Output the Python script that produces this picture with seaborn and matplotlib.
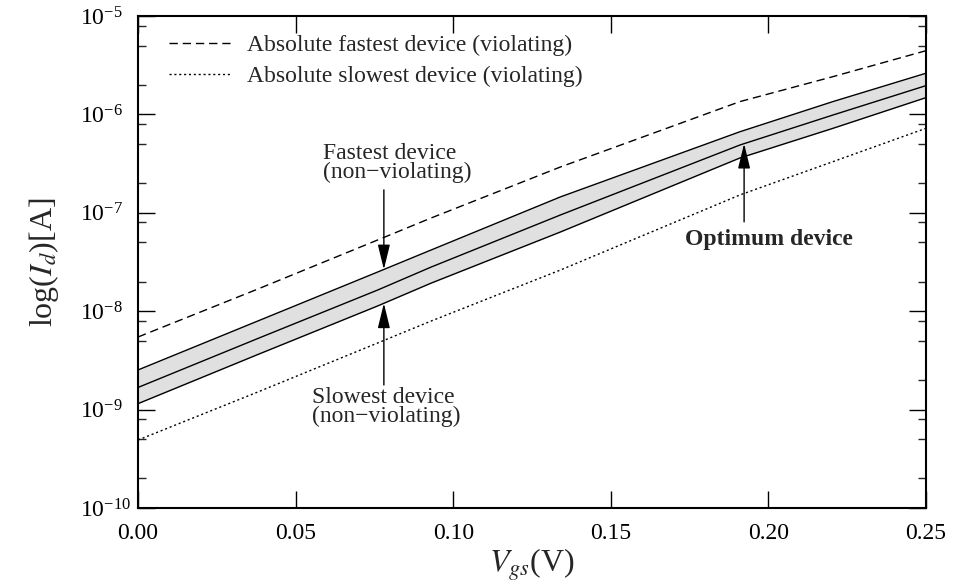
import numpy as np
import pandas as pd
import matplotlib
matplotlib.use("Agg")
import matplotlib.pyplot as plt
import seaborn as sns
from matplotlib.ticker import LogLocator, NullFormatter

# values (Vgs in V, Id in A)
vgs = [0.0, 0.038, 0.076, 0.093, 0.134, 0.191, 0.2205, 0.25]
id_abs_fast = [5.47e-9, 1.68e-8, 5.29e-8, 8.86e-8, 2.92e-7, 1.35e-6, 2.42e-6, 4.44e-6]
id_fast = [2.53e-9, 7.95e-9, 2.50e-8, 4.19e-8, 1.45e-7, 6.67e-7, 1.35e-6, 2.62e-6]
id_opt = [1.68e-9, 5.28e-9, 1.64e-8, 2.81e-8, 9.50e-8, 4.89e-7, 9.86e-7, 1.96e-6]
id_slow = [1.15e-9, 3.63e-9, 1.13e-8, 1.93e-8, 6.38e-8, 3.61e-7, 7.22e-7, 1.48e-6]
id_abs_slow = [4.91e-10, 1.51e-9, 4.75e-9, 7.95e-9, 2.62e-8, 1.52e-7, 3.31e-7, 7.22e-7]

xticks = [0.0, 0.05, 0.10, 0.15, 0.20, 0.25]
xtick_labels = ["0.00", "0.05", "0.10", "0.15", "0.20", "0.25"]
yticks = [1e-10, 1e-9, 1e-8, 1e-7, 1e-6, 1e-5]
legend_labels = ["Absolute fastest device (violating)", "Absolute slowest device (violating)"]

df = pd.DataFrame({"vgs": vgs, "abs_fast": id_abs_fast, "fast": id_fast,
                   "opt": id_opt, "slow": id_slow, "abs_slow": id_abs_slow})

sns.set_theme(style="ticks")
plt.rcParams["font.family"] = ["Liberation Serif", "DejaVu Serif"]
plt.rcParams["mathtext.fontset"] = "stix"
plt.rcParams["font.size"] = 17

fig = plt.figure(figsize=(9.54, 5.84), dpi=100)
ax = fig.add_axes([0.1447, 0.1301, 0.8259, 0.8425])

ax.fill_between(df["vgs"], df["slow"], df["fast"], color="#e0e0e0", lw=0)
sns.lineplot(data=df, x="vgs", y="abs_fast", ax=ax, color="black", lw=1.0,
             label=legend_labels[0]).lines[-1].set_dashes((6, 3.5))
sns.lineplot(data=df, x="vgs", y="abs_slow", ax=ax, color="black", lw=1.0,
             label=legend_labels[1]).lines[-1].set_dashes((1.5, 2))
for col in ["fast", "opt", "slow"]:
    sns.lineplot(data=df, x="vgs", y=col, ax=ax, color="black", lw=1.0, legend=False)

ax.set_yscale("log")
ax.set_xlim(0, 0.25)
ax.set_ylim(1e-10, 1e-5)
ax.set_xticks(xticks)
ax.set_xticklabels(xtick_labels)
ax.set_yticks(yticks)
ax.yaxis.set_minor_locator(LogLocator(base=10, subs=[2, 5, 8], numticks=20))
ax.yaxis.set_minor_formatter(NullFormatter())

ax.tick_params(which="major", direction="in", length=12, width=1.0,
               top=True, right=True, labelsize=17, colors="black")
ax.tick_params(axis="x", which="major", pad=11)
ax.tick_params(axis="y", which="major", pad=42)
ax.tick_params(which="minor", direction="in", length=6, width=1.0,
               top=False, right=True, left=True)
ax.tick_params(axis="x", which="minor", bottom=False, top=False)
for t in ax.get_yticklabels():
    t.set_horizontalalignment("left")
for s in ax.spines.values():
    s.set_linewidth(1.5)
    s.set_color("black")

ax.set_xlabel(r"$V_{gs}$(V)", fontsize=23, labelpad=2)
ax.set_ylabel(r"log($I_d$)[A]", fontsize=23)
ax.yaxis.set_label_coords(-0.098, 0.5)

leg = ax.legend(loc="upper left", bbox_to_anchor=(0.039, 0.962), frameon=False,
                handlelength=2.6, handletextpad=0.7, labelspacing=0.4,
                borderpad=0, borderaxespad=0, fontsize=17)

# annotations with arrows
def band_at(x, series):
    return 10 ** np.interp(x, vgs, np.log10(series))

arrow = dict(arrowstyle="-|>,head_length=0.9,head_width=0.22", color="black",
             lw=1.0, shrinkA=0, shrinkB=0)
x_fs = 0.078
ax.annotate("", xy=(x_fs, band_at(x_fs, id_fast)), xytext=(x_fs, 1.71e-7),
            arrowprops=arrow)
ax.annotate("", xy=(x_fs, band_at(x_fs, id_slow)), xytext=(x_fs, 1.78e-9),
            arrowprops=arrow)
x_opt = 0.1923
ax.annotate("", xy=(x_opt, band_at(x_opt, id_opt)), xytext=(x_opt, 8.1e-8),
            arrowprops=arrow)

ax.text(0.0587, 3.2e-7, "Fastest device\n(non\u2212violating)", ha="left", va="center",
        fontsize=17, linespacing=0.9)
ax.text(0.0552, 1.06e-9, "Slowest device\n(non\u2212violating)", ha="left", va="center",
        fontsize=17, linespacing=0.9)
ax.text(0.1735, 5.3e-8, "Optimum device", ha="left", va="center",
        fontsize=17, fontweight="bold")

fig.savefig("out.png", dpi=100)
